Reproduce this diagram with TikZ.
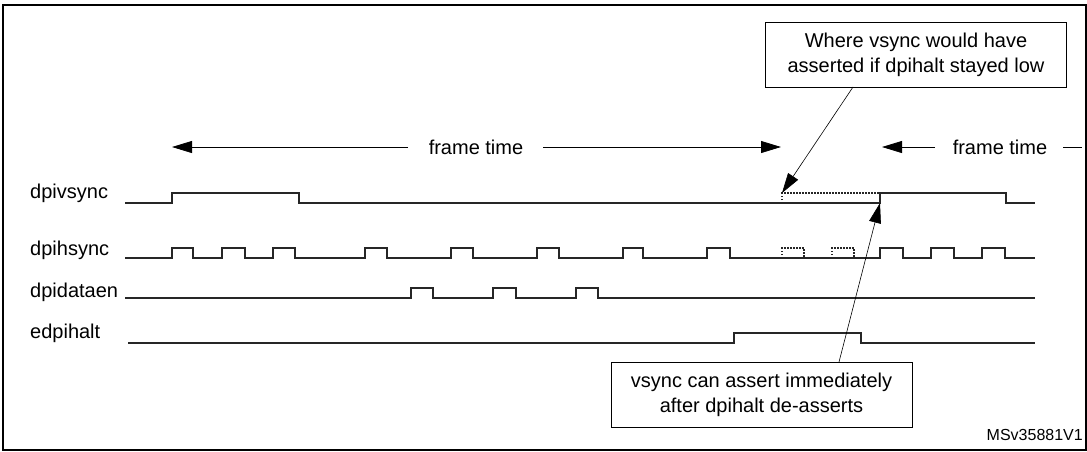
\documentclass[tikz,border=0pt]{standalone}
\usepackage{fontspec}
\setmainfont{Liberation Sans}
\usetikzlibrary{arrows.meta}
\begin{document}
\begin{tikzpicture}[x=1pt,y=-1pt,
  sig/.style={line width=1.1pt, black!85},
  dot/.style={line width=1.1pt, dash pattern=on 1.5pt off 1.5pt, black!85},
  lbl/.style={font=\fontsize{20}{24}\selectfont, anchor=west, inner sep=0pt},
  box/.style={draw, line width=0.8pt, font=\fontsize{20}{25}\selectfont, align=center, minimum width=301pt, minimum height=65pt, inner sep=0pt},
  big/.style={-{Triangle[length=20pt,width=12pt]}, line width=0.8pt},
  call/.style={-{Triangle[length=20pt,width=12pt]}, line width=0.6pt}]
\useasboundingbox (0,0) rectangle (1087,451);
\draw[line width=1.5pt] (3,5) -- (1086,5) -- (1086,450) -- (3,450) -- cycle;
% labels
\node[lbl] (l1) at (30,193) {dpivsync};
\node[lbl] (l2) at (30,250) {dpihsync};
\node[lbl] (l3) at (30,292) {dpidataen};
\node[lbl] (l4) at (30,333) {edpihalt};
% vsync
\draw[sig] (125,203) -- (172,203) -- (172,193) -- (299,193) -- (299,203) -- (880,203) -- (880,193) -- (1006,193) -- (1006,203) -- (1035,203);
\draw[dot] (782,203) -- (782,193) -- (880,193);
\coordinate (vrise) at (880,203);
\coordinate (vdot) at (782,193);
% hsync
\draw[sig] (125,258)
 \foreach \a/\b in {172/193,222/245,273/295,365/387,451/473,537/559,623/643,707/730} { -- (\a,258) -- (\a,248) -- (\b,248) -- (\b,258) }
 -- (880,258)
 \foreach \a/\b in {880/903,931/954,982/1005} { -- (\a,258) -- (\a,248) -- (\b,248) -- (\b,258) }
 -- (1035,258);
\draw[dot] (782,258) -- (782,248) -- (804,248) -- (804,258);
\draw[dot] (832,258) -- (832,248) -- (854,248) -- (854,258);
% dataen
\draw[sig] (125,298)
 \foreach \a/\b in {411/433,493/516,576/598} { -- (\a,298) -- (\a,288) -- (\b,288) -- (\b,298) }
 -- (1035,298);
% halt
\draw[sig] (128,343) -- (734,343) -- (734,333) -- (861,333) -- (861,343) -- (1035,343);
% frame time
\node[font=\fontsize{20}{24}\selectfont, inner sep=0pt] (ft1) at (476,147) {frame time};
\coordinate (a1) at (172,147); \coordinate (a2) at (781,147);
\draw[big] (408,147) -- (a1);
\draw[big] (543,147) -- (a2);
\node[font=\fontsize{20}{24}\selectfont, inner sep=0pt] (ft2) at (1000,147) {frame time};
\coordinate (a3) at (882,147);
\draw[big] (935,147) -- (a3);
\draw[line width=0.8pt] (1063,147) -- (1082,147);
% boxes
\node[box] (b1) at (916,55) {Where vsync would have\\asserted if dpihalt stayed low};
\node[box] (b2) at (761.5,394.5) {vsync can assert immediately\\after dpihalt de-asserts};
\draw[call] (853,87) -- (vdot);
\draw[call] (839,362) -- (vrise);
\node[font=\fontsize{16}{19}\selectfont, anchor=east, inner sep=0pt] (id) at (1083,435) {MSv35881V1};
\end{tikzpicture}
\end{document}
